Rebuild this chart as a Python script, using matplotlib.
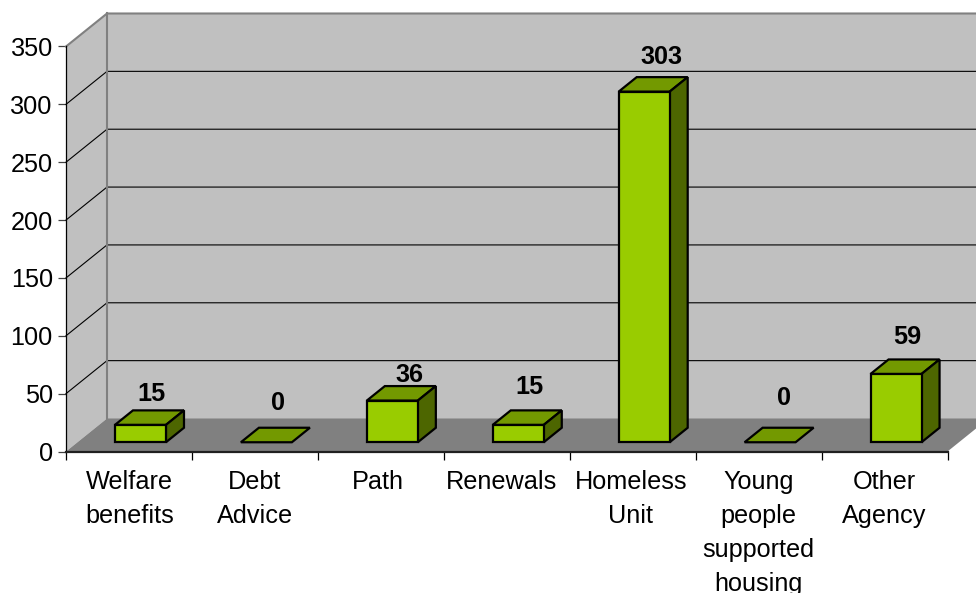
import numpy as np
import matplotlib
matplotlib.use('Agg')
import matplotlib.pyplot as plt
from matplotlib.patches import Polygon
from matplotlib.transforms import ScaledTranslation

plt.rcParams['font.family'] = ['Liberation Sans', 'DejaVu Sans']

# Referrals by agency
categories = ['Welfare\nbenefits', 'Debt\nAdvice', 'Path', 'Renewals', 'Homeless\nUnit',
              'Young\npeople\nsupported\nhousing', 'Other\nAgency']
values = [15, 0, 36, 15, 303, 0, 59]
yticks = [0, 50, 100, 150, 200, 250, 300, 350]

# Hand placed label offsets from the bar's front top corner centre (pixels)
label_dx = [11.5, 12, 17, 11.5, 17.5, 14, 11.5]
label_dy = [30.5, 39, 26, 38, 35, 44, 37]
# Category labels are nudged sideways too (pixels)
cat_dx = [0.5, 0, -3, -5, -2, 0, 0]

W, H = 976, 593
fig = plt.figure(figsize=(W / 100, H / 100), dpi=100, facecolor='white')
ax = fig.add_axes([66 / W, 1 - 451.5 / H, (947.5 - 66) / W, 405 / H])
ax.set_xlim(0, 7)
ax.set_ylim(0, 350)
ax.patch.set_visible(False)

# Oblique projection of the depth axis, in data units
ox = 41 / (881.5 / 7)
oy = 33 / (405 / 350)
n = len(values)
ymax = yticks[-1]

WALL = '#C0C0C0'
FLOOR = '#808080'
FRONT = '#99CC00'
TOP = '#739900'
SIDE = '#4D6600'


def add_poly(pts, fc, ec='none', lw=0, z=1):
    ax.add_patch(Polygon(pts, closed=True, facecolor=fc, edgecolor=ec, linewidth=lw,
                         joinstyle='miter', clip_on=False, zorder=z))


# walls and floor
add_poly([(ox, oy), (n + ox, oy), (n + ox, ymax + oy), (ox, ymax + oy)], WALL)
add_poly([(0, 0), (ox, oy), (ox, ymax + oy), (0, ymax)], WALL)
add_poly([(0, 0), (n, 0), (n + ox, oy), (ox, oy)], FLOOR)

# gridlines run along the back wall and down the side wall
for t in yticks[1:-1]:
    ax.plot([0, ox, n + ox], [t, t + oy, t + oy], color='black', lw=0.8, clip_on=False, zorder=2)
ax.plot([0, ox, n + ox], [ymax, ymax + oy, ymax + oy], color=FLOOR, lw=1.5, clip_on=False, zorder=2)
ax.plot([ox, ox], [oy, ymax + oy], color=FLOOR, lw=1.5, clip_on=False, zorder=2)

# bars
bar_w = 51 / (881.5 / 7)
d0, d1 = 0.28, 0.72
for i, v in enumerate(values):
    x0 = i + 0.5 - bar_w / 2 + d0 * ox
    x1 = x0 + bar_w
    y0 = d0 * oy
    dx = (d1 - d0) * ox
    dy = (d1 - d0) * oy
    add_poly([(x0, y0 + v), (x1, y0 + v), (x1 + dx, y0 + v + dy), (x0 + dx, y0 + v + dy)],
             TOP, 'black', 1.6, 4)
    if v > 0:
        add_poly([(x1, y0), (x1 + dx, y0 + dy), (x1 + dx, y0 + v + dy), (x1, y0 + v)],
                 SIDE, 'black', 1.6, 4)
        add_poly([(x0, y0), (x1, y0), (x1, y0 + v), (x0, y0 + v)], FRONT, 'black', 1.6, 5)
    ax.annotate(str(v), xy=((x0 + x1) / 2, y0 + v), xytext=(label_dx[i] * 0.72, label_dy[i] * 0.72),
                textcoords='offset points', ha='center', va='center', fontsize=18.2,
                fontweight='bold', color='black', zorder=6, annotation_clip=False)

# axes
for s in ['top', 'right']:
    ax.spines[s].set_visible(False)
ax.spines['left'].set_linewidth(0.9)
ax.spines['bottom'].set_linewidth(1.6)
ax.spines['bottom'].set_color('#202020')
ax.spines['left'].set_zorder(3)
ax.spines['bottom'].set_zorder(3)

ax.set_yticks(yticks)
ax.tick_params(axis='y', length=6, width=0.9, color='#404040', labelsize=18.2, pad=3.5)
ax.set_xticks(np.arange(n + 1))
ax.set_xticklabels([])
ax.tick_params(axis='x', which='major', length=6, width=0.9, color='black')
ax.set_xticks(np.arange(n) + 0.5, minor=True)
ax.set_xticklabels(categories, minor=True, fontsize=18.2, linespacing=1.53, va='top')
ax.tick_params(axis='x', which='minor', length=0, pad=13.2)
for lab, shift in zip(ax.get_xticklabels(minor=True), cat_dx):
    lab.set_transform(lab.get_transform() + ScaledTranslation(shift / 100, 0, fig.dpi_scale_trans))

fig.savefig('out.png', dpi=100)
